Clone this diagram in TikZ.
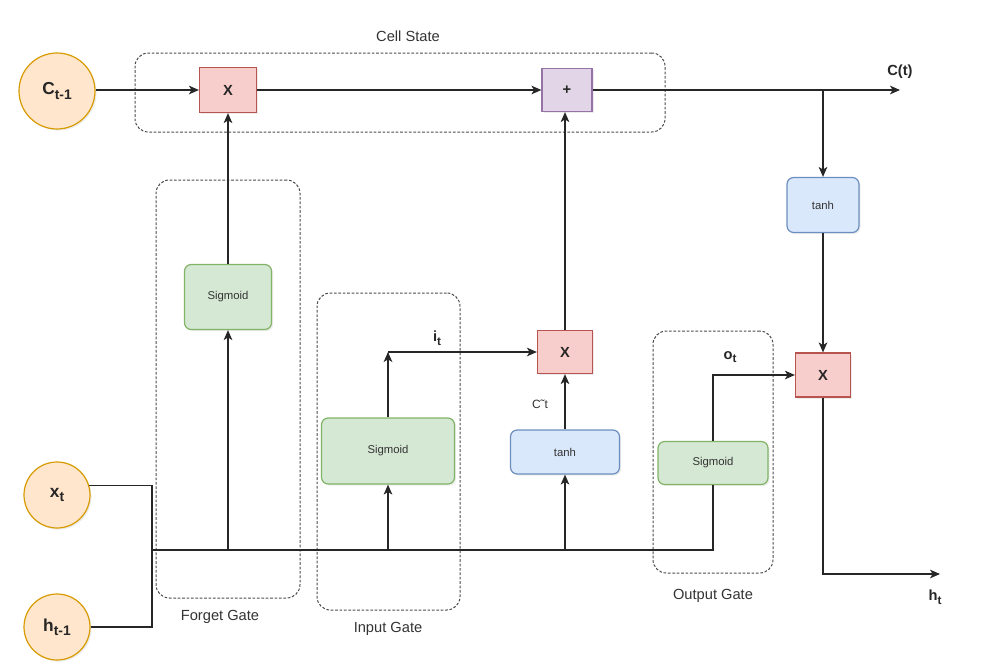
\documentclass[tikz,border=0pt]{standalone}
\usepackage{fontspec}
\usepackage{graphicx}
\setmainfont{Liberation Sans}
\usetikzlibrary{arrows.meta,shadows}
\definecolor{orF}{HTML}{FFE6CC}\definecolor{orD}{HTML}{D79B00}
\definecolor{grF}{HTML}{D5E8D4}\definecolor{grD}{HTML}{82B366}
\definecolor{rdF}{HTML}{F8CECC}\definecolor{rdD}{HTML}{B85450}
\definecolor{blF}{HTML}{DAE8FC}\definecolor{blD}{HTML}{6C8EBF}
\definecolor{puF}{HTML}{E1D5E7}\definecolor{puD}{HTML}{9673A6}
\definecolor{txt}{HTML}{333333}
\newcommand\mysub[1]{\raisebox{-0.45ex}{\scalebox{0.8}{#1}}}
\begin{document}
\begin{tikzpicture}[x=0.75pt,y=-0.75pt,
  shad/.style={drop shadow={opacity=0.15,shadow xshift=1.2pt,shadow yshift=-1.2pt}},
  inp/.style={circle,draw=orD,fill=orF,line width=0.9pt,shad,font=\fontsize{13}{15}\selectfont\bfseries,inner sep=0pt,text=black!85},
  mult/.style={rectangle,draw=rdD,fill=rdF,line width=0.9pt,shad,font=\fontsize{11}{13}\selectfont\bfseries,text=black!85},
  addb/.style={rectangle,draw=puD,fill=puF,line width=0.9pt,shad,font=\fontsize{11}{13}\selectfont\bfseries,text=black!85},
  sig/.style={rectangle,rounded corners=5pt,draw=grD,fill=grF,line width=0.9pt,shad,font=\fontsize{8.5}{10}\selectfont,text=txt},
  tnh/.style={rectangle,rounded corners=5pt,draw=blD,fill=blF,line width=0.9pt,shad,font=\fontsize{8.5}{10}\selectfont,text=txt},
  gatebox/.style={rectangle,rounded corners=10pt,draw=black!70,line width=0.75pt,dash pattern=on 2pt off 1.3pt},
  lbl/.style={font=\fontsize{11}{13}\selectfont,text=txt},
  blbl/.style={font=\fontsize{11}{13}\selectfont\bfseries,text=black!85},
  wire/.style={draw=black!85,line width=0.95pt},
  arr/.style={wire,-{Stealth[length=7.5pt,width=6.5pt,inset=2pt]}}]
\useasboundingbox (0,0) rectangle (990,668);
% containers
\node[gatebox,minimum width=397.5pt,minimum height=59.25pt] (cs) at (400,92.5) {};
\node[gatebox,minimum width=108pt,minimum height=313.5pt] (fgb) at (228,389) {};
\node[gatebox,minimum width=107.25pt,minimum height=237.75pt] (igb) at (388.5,451.5) {};
\node[gatebox,minimum width=90pt,minimum height=181.5pt] (ogb) at (713,452) {};
\node[lbl] (csl) at (408,36) {Cell State};
\node[lbl] (fgl) at (220,617) {Forget Gate};
\node[lbl] (igl) at (388,629) {Input Gate};
\node[lbl] (ogl) at (713,596) {Output Gate};
% inputs
\node[inp,minimum size=57pt] (ct1) at (57,91) {C\mysub{t-1}};
\node[inp,minimum size=49.5pt] (xt) at (57,495) {x\mysub{t}};
\node[inp,minimum size=49.5pt] (ht1) at (57,627) {h\mysub{t-1}};
% operators
\node[mult,minimum width=42.75pt,minimum height=33.75pt] (mx1) at (228,90) {X};
\node[addb,minimum width=37.5pt,minimum height=32.25pt] (add) at (567,90) {+};
\node[mult,minimum width=41.25pt,minimum height=32.25pt] (mxi) at (565,352) {X};
\node[mult,minimum width=41.25pt,minimum height=33pt] (mxo) at (823,375) {X};
% activations
\node[sig,minimum width=65.25pt,minimum height=48.75pt] (sgF) at (228,297) {Sigmoid};
\node[sig,minimum width=99.75pt,minimum height=49.5pt] (sgI) at (388,451) {Sigmoid};
\node[sig,minimum width=82.5pt,minimum height=32.25pt] (sgO) at (713,463) {Sigmoid};
\node[tnh,minimum width=81.75pt,minimum height=33pt] (thI) at (565,452) {tanh};
\node[tnh,minimum width=54pt,minimum height=41.25pt] (thO) at (823,205) {tanh};
% coordinates
\coordinate (jx) at (152,550);
\coordinate (ctend) at (900,90);
\coordinate (br) at (823,90);
\coordinate (hend) at (940,574);
\coordinate (icorner) at (388,352);
% cell state line
\draw[arr] (ct1.east |- mx1) -- (mx1);
\draw[arr] (mx1) -- (add);
\draw[arr] (add) -- (ctend);
\node[blbl] (ctl) at (900,72) {C(t)};
\draw[arr] (br) -- (thO);
\draw[arr] (thO) -- (mxo);
\draw[arr] (mxo.south) |- (hend);
\node[blbl] (htl) at (935,597) {h\mysub{t}};
% inputs bus
\draw[wire] (xt.17) -| (jx);
\draw[wire] (ht1.east) -| (jx);
\draw[wire] (jx) -| (sgO.south);
\draw[arr] (sgF.south |- jx) -- (sgF.south);
\draw[arr] (sgI.south |- jx) -- (sgI.south);
\draw[arr] (thI.south |- jx) -- (thI.south);
% gates
\draw[arr] (sgF) -- (mx1);
\draw[arr] (sgI.north) -- (icorner);
\draw[arr] (icorner) -- (mxi.west);
\node[blbl] (itl) at (437,338) {i\mysub{t}};
\draw[arr] (thI) -- (mxi);
\node[lbl,font=\fontsize{9}{11}\selectfont] (ctil) at (540,404) {C˜t};
\draw[arr] (mxi.north) -- (mxi.north |- add.south);
\draw[arr] (sgO.north) |- (mxo.west);
\node[blbl] (otl) at (730,357) {o\mysub{t}};
\end{tikzpicture}
\end{document}
